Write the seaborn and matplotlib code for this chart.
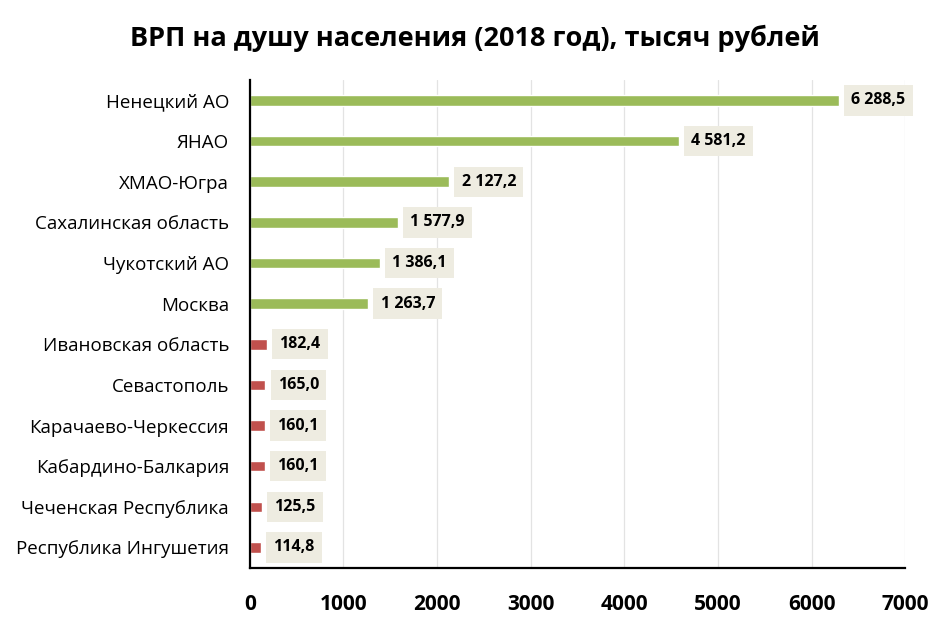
import matplotlib
matplotlib.use("Agg")
import matplotlib.pyplot as plt
import seaborn as sns
import pandas as pd

regions = ["Ненецкий АО", "ЯНАО", "ХМАО-Югра", "Сахалинская область", "Чукотский АО",
           "Москва", "Ивановская область", "Севастополь", "Карачаево-Черкессия",
           "Кабардино-Балкария", "Чеченская Республика", "Республика Ингушетия"]
values = [6288.5, 4581.2, 2127.2, 1577.9, 1386.1, 1263.7, 182.4, 165.0, 160.1, 160.1, 125.5, 114.8]
group = ["top"] * 6 + ["bottom"] * 6
xticks = [0, 1000, 2000, 3000, 4000, 5000, 6000, 7000]
title = "ВРП на душу населения (2018 год), тысяч рублей"

sns.set_style("white")
plt.rcParams["font.family"] = ["Open Sans", "DejaVu Sans"]
plt.rcParams["text.color"] = "black"
plt.rcParams["xtick.color"] = "black"
plt.rcParams["ytick.color"] = "black"

df = pd.DataFrame({"region": regions, "value": values, "group": group})

fig = plt.figure(figsize=(9.5, 6.26), dpi=100)
ax = fig.add_axes([0.263, 0.093, 0.69, 0.779])
sns.barplot(data=df, x="value", y="region", hue="group", orient="h",
            palette={"top": "#9BBB59", "bottom": "#C0504D"}, width=0.26,
            saturation=1, dodge=False, legend=False, ax=ax)

ax.set_xlim(0, 7000)
ax.set_xticks(xticks)
ax.set_xticklabels([str(t) for t in xticks], fontsize=15, fontweight="bold")
ax.tick_params(axis="x", pad=19, length=0, colors="black")
ax.tick_params(axis="y", length=0, pad=15, labelsize=13.5, colors="black")
ax.set_xlabel("")
ax.set_ylabel("")
ax.grid(axis="x", color="#e3e3e3", linewidth=0.9)
ax.set_axisbelow(True)
for s in ["top", "right"]:
    ax.spines[s].set_visible(False)
for s in ["left", "bottom"]:
    ax.spines[s].set_color("black")
    ax.spines[s].set_linewidth(1.6)

for i, v in enumerate(values):
    txt = f"{v:,.1f}".replace(",", " ").replace(".", ",")
    ax.annotate(txt, xy=(v, i), xytext=(9, 0), textcoords="offset points",
                ha="left", va="center", fontsize=11.5, fontweight="bold", color="black",
                bbox=dict(boxstyle="square,pad=0.45", fc="#EEECE1", ec="none"))

fig.text(0.5, 0.938, title, ha="center", va="center", fontsize=19.5, fontweight="bold",
         color="black")
fig.savefig("out.png", dpi=100, facecolor="white")
